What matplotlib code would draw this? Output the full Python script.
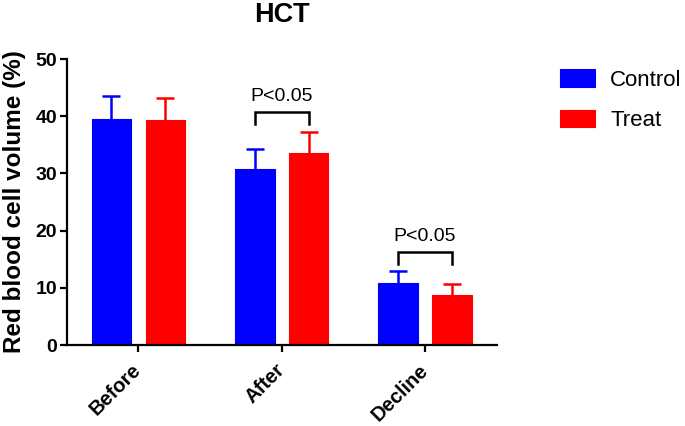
import numpy as np
import matplotlib
matplotlib.use("Agg")
import matplotlib.pyplot as plt

plt.rcParams['font.family'] = ['Liberation Sans', 'DejaVu Sans']

categories = ['Before', 'After', 'Decline']
control_mean = [39.6, 30.8, 10.9]
control_err = [4.0, 3.5, 2.1]
treat_mean = [39.3, 33.5, 8.7]
treat_err = [3.9, 3.8, 2.0]

# significance brackets: (group index, bracket height, leg bottom)
sig_groups = [1, 2]
sig_top = [40.7, 16.2]
sig_leg = [38.6, 14.1]
sig_text = 'P<0.05'

blue = '#0000ff'
red = '#ff0000'

fig = plt.figure(figsize=(6.85, 4.26), dpi=100)
ax = fig.add_axes([0.0974, 0.190, 0.6277, 0.6715])

x = np.arange(len(categories))
off = 0.188
w = 0.276

for pos, mean, err, col, lab in [(x - off, control_mean, control_err, blue, 'Control'),
                                 (x + off, treat_mean, treat_err, red, 'Treat')]:
    mean = np.array(mean)
    err = np.array(err)
    ax.bar(pos, mean, w, color=col, edgecolor=col, linewidth=0.8,
           joinstyle='round', label=lab, zorder=2)
    # upper error bar only, no cap at the bar top
    ax.vlines(pos, mean, mean + err, color=col, lw=1.8, zorder=1)
    ax.plot(pos, mean + err, ls='none', marker='_', ms=12.7, mew=1.8,
            color=col, zorder=1)

for g, top, leg in zip(sig_groups, sig_top, sig_leg):
    ax.plot([g - off, g - off, g + off, g + off], [leg, top, top, leg],
            color='black', lw=1.8, solid_joinstyle='miter')
    ax.text(g, top + 1.3, sig_text, ha='center', va='bottom', fontsize=14)

ax.set_xlim(-0.5, 2.5)
ax.set_ylim(0, 50)
ax.set_yticks([0, 10, 20, 30, 40, 50])
ax.set_xticks(x)
ax.set_xticklabels(categories, rotation=45, ha='right', va='center',
                   rotation_mode='anchor', fontsize=14.5, fontweight='bold')
for lab in ax.get_yticklabels():
    lab.set_fontsize(14)
    lab.set_fontweight('bold')

for s in ['top', 'right']:
    ax.spines[s].set_visible(False)
for s in ['left', 'bottom']:
    ax.spines[s].set_linewidth(1.6)
ax.tick_params(axis='both', width=1.6, length=5, pad=2)
ax.tick_params(axis='x', pad=11)

ax.set_ylabel('Red blood cell volume (%)', fontsize=17.5, fontweight='bold', labelpad=7)
ax.set_title('HCT', fontsize=19.5, fontweight='bold', pad=27)

ax.legend(loc='upper left', bbox_to_anchor=(1.1, 1.035), frameon=False,
          fontsize=16, handlelength=1.58, handleheight=0.86, handletextpad=0.7,
          labelspacing=0.85)

fig.savefig('out.png', dpi=100)
